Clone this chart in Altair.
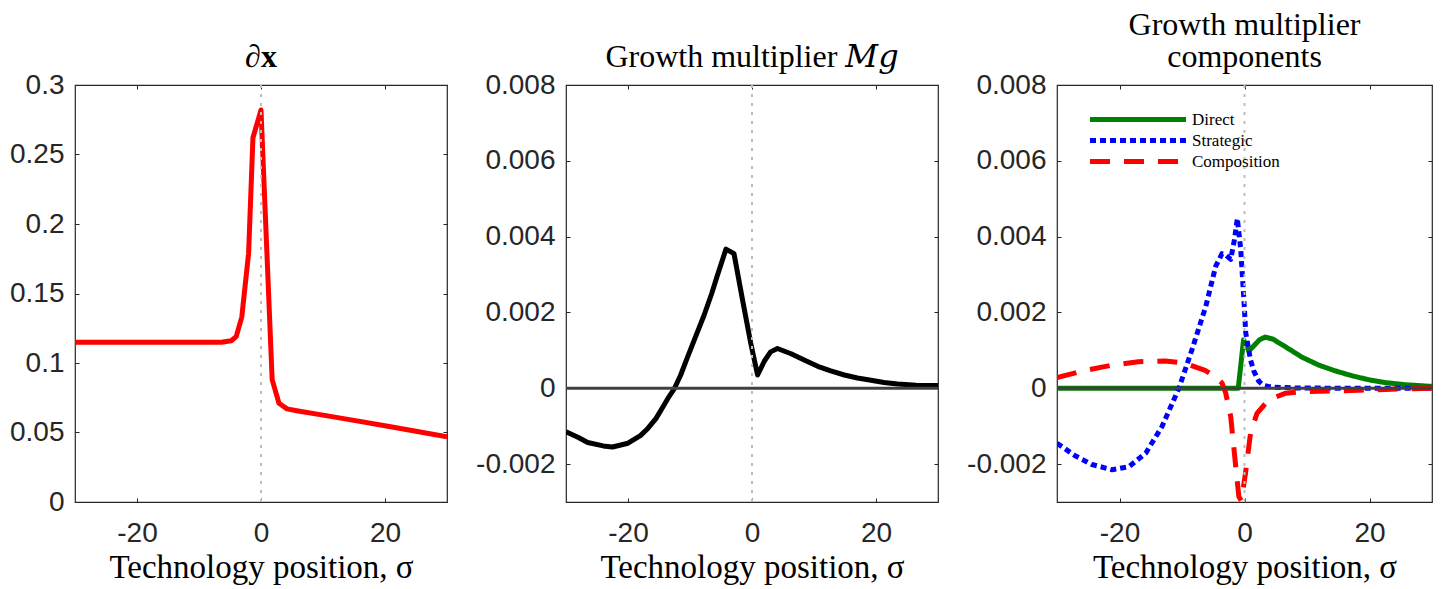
import altair as alt
import pandas as pd

# ---------------- data ----------------
X_DOMAIN = [-30, 30]
X_TICKS = [-20, 0, 20]

# Panel 1: dx
dx_sigma = [-30, -25, -20, -15, -10, -6.4, -4.8, -4.0, -3.1, -2.0, -1.3, 0.0,
            1.8, 2.9, 4.2, 6, 10, 15, 20, 25, 30]
dx_value = [0.115, 0.115, 0.115, 0.115, 0.115, 0.115, 0.116, 0.119, 0.133, 0.179, 0.262, 0.282,
            0.088, 0.071, 0.067, 0.0655, 0.0625, 0.0587, 0.0548, 0.0509, 0.047]

# Panel 2: growth multiplier (x 1e-3)
mg_sigma = [-30, -28, -26.5, -24, -22.5, -20, -18, -16.8, -15.5, -14.4, -13.5, -12.5,
            -11.5, -10.4, -9, -7.7, -6.5, -5.6, -4.2, -2.9, -1.5, -0.2, 0.9,
            2.0, 3.0, 4.1, 6.3, 8.5, 10.6, 12.7, 14.9, 17, 19.2, 21.3, 23.5, 26.5, 30]
mg_e3 = [-1.15, -1.30, -1.43, -1.52, -1.55, -1.45, -1.25, -1.06, -0.80, -0.50, -0.25, 0.0,
         0.35, 0.82, 1.40, 1.94, 2.50, 2.97, 3.67, 3.55, 2.31, 1.19, 0.35,
         0.72, 0.96, 1.05, 0.91, 0.74, 0.58, 0.46, 0.35, 0.27, 0.21, 0.15, 0.11, 0.08, 0.07]

# Panel 3: components (x 1e-3)
direct_sigma = [-30, -1.0, -0.15, 0.7, 1.5, 2.4, 3.3, 4.5, 6.5, 9.2, 11.9, 14.5, 17.2, 20, 22.5, 26, 30]
direct_e3 = [0, 0, 1.28, 0.98, 1.12, 1.28, 1.35, 1.30, 1.10, 0.82, 0.61, 0.46, 0.33, 0.22, 0.15, 0.09, 0.05]

strategic_sigma = [-30, -27.1, -24.4, -21.2, -18.5, -15.8, -13.2, -10.5, -8.4, -6.2, -4.6, -3.6,
                   -2.9, -2.2, -1.6, -1.15, -0.6, -0.1, 0.2, 0.96, 1.5, 2.3, 3.0, 4.3, 8, 15, 30]
strategic_e3 = [-1.45, -1.78, -2.01, -2.15, -2.07, -1.71, -1.01, 0.0, 1.02, 2.16, 3.22, 3.55,
                3.50, 3.40, 3.93, 4.48, 3.66, 2.34, 1.46, 0.75, 0.45, 0.18, 0.08, 0.03, 0.01, 0.0, 0.0]

composition_sigma = [-30, -25.5, -21.2, -17, -12.7, -9.5, -6.3, -4.7, -3.6, -3.0, -2.2, -1.4,
                     -0.9, -0.5, 0.16, 0.96, 2.0, 3.9, 6.6, 9.2, 14.5, 22.5, 30]
composition_e3 = [0.28, 0.47, 0.61, 0.70, 0.72, 0.66, 0.47, 0.31, 0.14, -0.13, -0.75, -2.07,
                  -2.86, -2.97, -2.24, -1.19, -0.66, -0.30, -0.13, -0.09, -0.07, -0.03, 0.0]

series_names = ["Direct", "Strategic", "Composition"]
series_colors = ["#008000", "#0000ff", "#ff0000"]
series_dashes = [[1, 0], [6, 4], [20, 14]]

panel_titles = ["∂x", "Growth multiplier 𝑀𝑔", ["Growth multiplier", "components"]]
x_title = "Technology position, σ"

Y1_DOMAIN = [0, 0.3]
Y1_TICKS = [0, 0.05, 0.1, 0.15, 0.2, 0.25, 0.3]
Y2_DOMAIN = [-0.003, 0.008]
Y2_TICKS = [-0.002, 0, 0.002, 0.004, 0.006, 0.008]

# ---------------- styling ----------------
SANS = "Liberation Sans"
SERIF = "Liberation Serif, DejaVu Serif"
FRAME = "#262626"
PLOT_H = 417
INWARD = {"expr": "-4"}
TICK_FS = 28

df1 = pd.DataFrame({"sigma": dx_sigma, "value": dx_value})
df2 = pd.DataFrame({"sigma": mg_sigma, "value": [v * 1e-3 for v in mg_e3]})
parts = []
for name, s, v in [("Direct", direct_sigma, direct_e3),
                   ("Strategic", strategic_sigma, strategic_e3),
                   ("Composition", composition_sigma, composition_e3)]:
    parts.append(pd.DataFrame({"sigma": s, "value": [x * 1e-3 for x in v], "series": name}))
df3 = pd.concat(parts, ignore_index=True)

X_LABEL_EXPR = "datum.value < 0 ? '-' + format(-datum.value, 'd') : format(datum.value, 'd')"
Y1_LABEL_EXPR = "format(datum.value, '~g')"
Y2_LABEL_EXPR = "datum.value == 0 ? '0' : (datum.value < 0 ? '-' : '') + format(abs(datum.value), '.3f')"


def main_x_axis():
    return alt.Axis(orient="bottom", values=X_TICKS, labelExpr=X_LABEL_EXPR, tickSize=INWARD,
                    tickColor=FRAME, tickWidth=1, domain=False, grid=False, labelFont=SANS,
                    labelFontSize=TICK_FS, labelColor=FRAME, labelPadding=21, title=x_title,
                    titleFont=SERIF, titleFontSize=33, titleFontWeight="normal",
                    titleColor="black", titlePadding=4)


def main_y_axis(vals, expr):
    return alt.Axis(orient="left", values=vals, labelExpr=expr, tickSize=INWARD,
                    tickColor=FRAME, tickWidth=1, domain=False, grid=False, labelFont=SANS,
                    labelFontSize=TICK_FS, labelColor=FRAME, labelPadding=15, title=None,
                    minExtent=65)


def tick_axis(orient, vals):
    return alt.Axis(orient=orient, values=vals, offset=-4, tickSize=4, labels=False,
                    domain=False, grid=False, title=None, tickColor=FRAME, tickWidth=1)


def make_panel(df, yvals, ydomain, yexpr, title, width, zero_line, multi=False, bold=False):
    xs = alt.Scale(domain=X_DOMAIN, nice=False, zero=False)
    ys = alt.Scale(domain=ydomain, nice=False, zero=False)
    layers = []
    if multi:
        leg = alt.Legend(orient="none", legendX=33, legendY=24, title=None,
                         symbolType="M-1.3125,0H10.6875", symbolSize=256, symbolStrokeWidth=5,
                         labelFont=SERIF, labelFontSize=17, labelColor="black",
                         labelOffset=81, rowPadding=0, padding=0)
        main = alt.Chart(df).mark_line(clip=True, strokeWidth=5, strokeCap="butt",
                                       strokeJoin="round").encode(
            x=alt.X("sigma:Q", scale=xs, axis=main_x_axis()),
            y=alt.Y("value:Q", scale=ys, axis=main_y_axis(yvals, yexpr)),
            color=alt.Color("series:N", scale=alt.Scale(domain=series_names, range=series_colors),
                            legend=leg),
            strokeDash=alt.StrokeDash("series:N",
                                      scale=alt.Scale(domain=series_names, range=series_dashes),
                                      legend=leg),
            order=alt.Order("sigma:Q"),
        )
    else:
        color = "#ff0000" if ydomain == Y1_DOMAIN else "#000000"
        main = alt.Chart(df).mark_line(clip=True, strokeWidth=5, color=color,
                                       strokeJoin="round").encode(
            x=alt.X("sigma:Q", scale=xs, axis=main_x_axis()),
            y=alt.Y("value:Q", scale=ys, axis=main_y_axis(yvals, yexpr)),
        )
    layers.append(main)
    ticks_tr = alt.Chart(df).mark_line(strokeOpacity=0, clip=True).encode(
        x=alt.X("sigma:Q", scale=xs, axis=tick_axis("top", X_TICKS)),
        y=alt.Y("value:Q", scale=ys, axis=tick_axis("right", yvals)),
    )
    layers.append(ticks_tr)
    if zero_line:
        zero = alt.Chart(pd.DataFrame({"y": [0.0]})).mark_rule(
            color="#404040", strokeWidth=3, clip=True).encode(
            y=alt.Y("y:Q", scale=ys, axis=None))
        layers.append(zero)
    vline = alt.Chart(pd.DataFrame({"x": [0.0]})).mark_rule(
        color="#bdbdbd", strokeWidth=2, strokeDash=[3, 6], clip=True).encode(
        x=alt.X("x:Q", scale=xs, axis=None))
    layers.append(vline)
    return alt.layer(*layers).resolve_axis(x="independent", y="independent").properties(
        width=width, height=PLOT_H,
        title=alt.TitleParams(text=title, font=SERIF, fontSize=32,
                              fontWeight="bold" if bold else "normal",
                              color="black", baseline="bottom", offset=-35, lineHeight=32,
                              anchor="middle"))


p1 = make_panel(df1, Y1_TICKS, Y1_DOMAIN, Y1_LABEL_EXPR, panel_titles[0], 372, False, bold=True)
p2 = make_panel(df2, Y2_TICKS, Y2_DOMAIN, Y2_LABEL_EXPR, panel_titles[1], 372, True)
p3 = make_panel(df3, Y2_TICKS, Y2_DOMAIN, Y2_LABEL_EXPR, panel_titles[2], 375, True, multi=True)

chart = alt.hconcat(p1, p2, p3, spacing=26).resolve_legend(
    color="independent", strokeDash="independent"
).properties(
    padding={"left": 0, "top": 0, "right": 0, "bottom": 0}
).configure_view(stroke=FRAME, strokeWidth=1.2)

chart.save("out.html", embed_options={"renderer": "svg", "actions": False})
